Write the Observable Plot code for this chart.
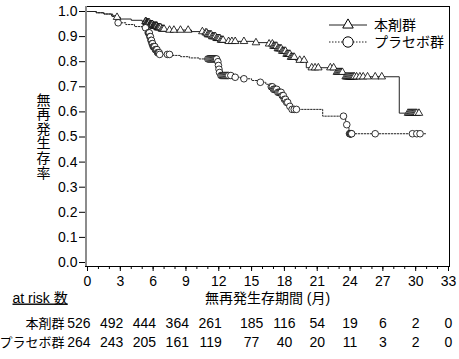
<!DOCTYPE html>
<html><head><meta charset="utf-8">
<script src="https://cdn.jsdelivr.net/npm/d3@7"></script>
<script src="https://cdn.jsdelivr.net/npm/@observablehq/plot@0.6"></script>
<style>body{margin:0;background:#fff}#chart{width:459px;height:359px}</style>
</head><body><div id="chart"></div>
<script>
// ---------- data ----------
const groups = ["本剤群", "プラセボ群"];

// 本剤群 step function (time in months, survival)
const treatTimes = [0, 0.8, 1.5, 2.3, 2.6, 3.0, 4.0, 5.0, 5.4, 5.7, 6.0, 6.4, 6.8, 7.2, 9.5, 10.6, 11.0, 11.4, 11.8, 12.2, 12.6, 15.2, 16.6, 17.0, 17.4, 17.8, 18.2, 18.6, 19.0, 20.0, 22.7, 23.5, 28.5, 30.5];
const treatSurv  = [1.0, 0.995, 0.99, 0.983, 0.977, 0.97, 0.965, 0.96, 0.955, 0.948, 0.942, 0.936, 0.93, 0.926, 0.92, 0.915, 0.908, 0.90, 0.893, 0.886, 0.881, 0.876, 0.871, 0.862, 0.852, 0.842, 0.83, 0.818, 0.806, 0.776, 0.758, 0.740, 0.595, 0.595];
// 本剤群 censored times
const treatCensor = [2.7,
  5.3, 5.35, 5.4, 5.45, 5.5, 5.55, 5.6, 5.65, 5.7, 5.75, 5.8, 5.85, 5.9, 5.95, 6.0, 6.05, 6.1, 6.15, 6.2, 6.25, 6.3, 6.35, 6.4, 6.45, 6.5, 6.55, 6.6, 6.7, 6.8, 6.9, 7.0,
  7.5, 7.9, 8.5, 9.2,
  10.5, 10.8, 10.9, 11.0, 11.1, 11.2, 11.3, 11.4, 11.5, 11.6, 11.7, 11.8, 11.9, 12.0, 12.1, 12.2, 12.3, 12.4,
  12.9, 13.2, 13.5, 14.3, 15.4, 16.6,
  16.9, 17.0, 17.1, 17.2, 17.3, 17.4, 17.5, 17.6, 17.7, 17.8, 17.9, 18.0, 18.1, 18.2, 18.3, 18.4, 18.5, 18.6, 18.7, 18.8, 18.9,
  19.4, 19.8, 20.5, 20.8, 21.1, 22.2, 22.5,
  22.8, 22.9, 23.0, 23.1, 23.2, 23.3, 23.6, 23.7, 23.8, 23.9, 24.0, 24.1, 24.2, 24.3, 24.4, 24.6, 24.9, 25.2, 25.6, 26.3, 26.9,
  29.3, 29.4, 29.5, 29.6, 29.7, 29.8, 29.9, 30.0, 30.1, 30.3];

// プラセボ群 step function
const placTimes = [0, 0.8, 1.5, 2.2, 2.7, 3.5, 4.3, 5.0, 5.5, 5.7, 5.8, 5.9, 6.0, 6.2, 6.4, 6.6, 7.8, 8.5, 9.3, 10.2, 11.9, 11.95, 12.0, 12.05, 12.1, 13.4, 14.0, 15.0, 15.6, 16.3, 16.7, 17.0, 17.4, 17.8, 18.0, 18.2, 18.4, 18.6, 21.5, 23.6, 23.9, 30.9];
const placSurv  = [1.0, 0.995, 0.99, 0.98, 0.955, 0.948, 0.94, 0.935, 0.915, 0.90, 0.885, 0.872, 0.86, 0.848, 0.836, 0.829, 0.825, 0.82, 0.815, 0.811, 0.80, 0.785, 0.77, 0.757, 0.745, 0.738, 0.732, 0.725, 0.718, 0.71, 0.70, 0.69, 0.678, 0.665, 0.65, 0.638, 0.622, 0.61, 0.583, 0.549, 0.513, 0.513];
// プラセボ群 censored times
const placCensor = [2.8, 5.3,
  5.55, 5.6, 5.65, 5.7, 5.75, 5.8, 5.85, 5.9, 5.95, 6.0, 6.05, 6.1, 6.15, 6.2, 6.25, 6.3, 6.35, 6.4, 6.45, 6.5, 6.55, 6.6,
  7.3, 7.5,
  11.0, 11.1, 11.2, 11.3, 11.4, 11.5, 11.6, 11.7, 11.8, 11.92, 11.97, 12.02, 12.07, 12.2, 12.3, 12.4, 12.5, 12.6, 12.7, 12.8, 12.9, 13.1,
  13.5, 14.3, 15.8,
  16.8, 16.9, 17.0, 17.1, 17.2, 17.3, 17.4, 17.5, 17.6, 17.7, 17.8, 17.9, 18.0, 18.1, 18.2, 18.3, 18.5, 18.7, 18.9, 19.1,
  23.4, 23.7, 23.95, 24.0, 24.05, 24.1, 24.15,
  26.3, 29.7, 30.1, 30.4];

// at-risk table
const riskTimes = [0, 3, 6, 9, 12, 15, 18, 21, 24, 27, 30, 33];
const riskTreat = [526, 492, 444, 364, 261, 185, 116, 54, 19, 6, 2, 0];
const riskPlac  = [264, 243, 205, 161, 119, 77, 40, 20, 11, 3, 2, 0];

const yTicks = [0, 0.1, 0.2, 0.3, 0.4, 0.5, 0.6, 0.7, 0.8, 0.9, 1.0];
const xMajor = [0, 3, 6, 9, 12, 15, 18, 21, 24, 27, 30, 33];
const xMinor = d3.range(0, 34);
const yLabel = "無再発生存率";
const xLabel = "無再発生存期間 (月)";
const riskHeader = "at risk 数";

// ---------- helpers ----------
const steps = (times, surv) => times.map((t, i) => ({t, s: surv[i]}));
const survAt = (times, surv, t) => surv[Math.max(0, d3.bisectRight(times, t) - 1)];
const treatData = steps(treatTimes, treatSurv);
const placData = steps(placTimes, placSurv);
const treatCens = treatCensor.map(t => ({t, s: survAt(treatTimes, treatSurv, t)}));
const placCens = placCensor.map(t => ({t, s: survAt(placTimes, placSurv, t)}));
const riskRows = [riskTreat, riskPlac].map(r => riskTimes.map((t, i) => ({t, n: r[i], i})));

const FONT = "'Liberation Sans', Arial, Helvetica, 'Noto Sans CJK JP', sans-serif";

const riskMarks = riskRows.flatMap((rows, k) => [
  Plot.text(rows.filter(d => d.i < 5), {x: "t", text: d => String(d.n), frameAnchor: "bottom", dy: 61 + k * 19, textAnchor: "end", dx: 3, fontSize: 14}),
  Plot.text(rows.filter(d => d.i >= 5), {x: "t", text: d => String(d.n), frameAnchor: "bottom", dy: 61 + k * 19, textAnchor: "middle", fontSize: 14}),
  Plot.text([groups[k]], {text: d => d, frameAnchor: "bottom-left", dx: -21, dy: 61 + k * 19, textAnchor: "end", fontSize: 13})
]);

const plot = Plot.plot({
  width: 459, height: 359,
  marginLeft: 85, marginRight: 10, marginTop: 6, marginBottom: 93,
  insetLeft: 2, insetRight: 1, insetTop: 5, insetBottom: 4,
  style: {fontFamily: FONT, fontSize: "14px", color: "black", background: "white"},
  x: {domain: [0, 33], axis: null, label: null},
  y: {domain: [0, 1], axis: null, label: null},
  marks: [
    Plot.frame({stroke: "black", strokeWidth: 1}),
    Plot.ruleX([0], {dx: -1.5, stroke: "#8c8c8c", strokeWidth: 2}),
    Plot.axisY({ticks: yTicks, tickFormat: d3.format(".1f"), tickSize: 6, tickPadding: 2, label: null, fontSize: 14}),
    Plot.axisX({ticks: xMinor, tickFormat: () => "", tickSize: 3, label: null}),
    Plot.axisX({ticks: xMajor, tickSize: 5, tickPadding: 5, label: null, fontSize: 14}),
    Plot.line(treatData, {x: "t", y: "s", curve: "step-after", stroke: "#222", strokeWidth: 1}),
    Plot.line(placData, {x: "t", y: "s", curve: "step-after", stroke: "#222", strokeWidth: 1, strokeDasharray: "1.5,1.5"}),
    Plot.dot(treatCens, {x: "t", y: "s", symbol: "triangle", r: 2.8, fill: "white", stroke: "black", strokeWidth: 0.8}),
    Plot.dot(placCens, {x: "t", y: "s", symbol: "circle", r: 3.3, fill: "white", stroke: "black", strokeWidth: 0.8}),
    Plot.text([yLabel], {text: d => d.split("").join("\n"), frameAnchor: "left", dx: -42, lineHeight: 1.04, textAnchor: "middle", fontSize: 14}),
    Plot.text([xLabel], {text: d => d, frameAnchor: "bottom", dy: 36, textAnchor: "middle", fontSize: 14}),
    Plot.text([riskHeader], {text: d => d, frameAnchor: "bottom-left", dx: -73, dy: 36, textAnchor: "start", fontSize: 14}),
    ...riskMarks
  ]
});
document.getElementById("chart").appendChild(plot);

// underline header
const svg = d3.select(plot.tagName.toLowerCase() === "svg" ? plot : plot.querySelector("svg"));
svg.selectAll("text").filter(function () { return this.textContent === riskHeader; })
  .style("text-decoration", "underline");

// legend (inside plot, top-right)
const legend = svg.append("g").attr("font-family", FONT).attr("font-size", 14).attr("text-anchor", "start");
const legendSpec = [
  {name: groups[0], sym: d3.symbolTriangle, size: 48, dash: null},
  {name: groups[1], sym: d3.symbolCircle, size: 85, dash: "1.5,1.5"}
];
legendSpec.forEach((d, i) => {
  const y = 25 + i * 17;
  legend.append("line").attr("x1", 329).attr("x2", 367).attr("y1", y).attr("y2", y)
    .attr("stroke", "#222").attr("stroke-width", 1).attr("stroke-dasharray", d.dash);
  legend.append("path").attr("d", d3.symbol(d.sym, d.size)()).attr("transform", `translate(348,${y})`)
    .attr("fill", "white").attr("stroke", "black").attr("stroke-width", 1);
  legend.append("text").attr("x", 374).attr("y", y).attr("dy", "0.35em").attr("text-anchor", "start").attr("fill", "black").text(d.name);
});
</script></body></html>
